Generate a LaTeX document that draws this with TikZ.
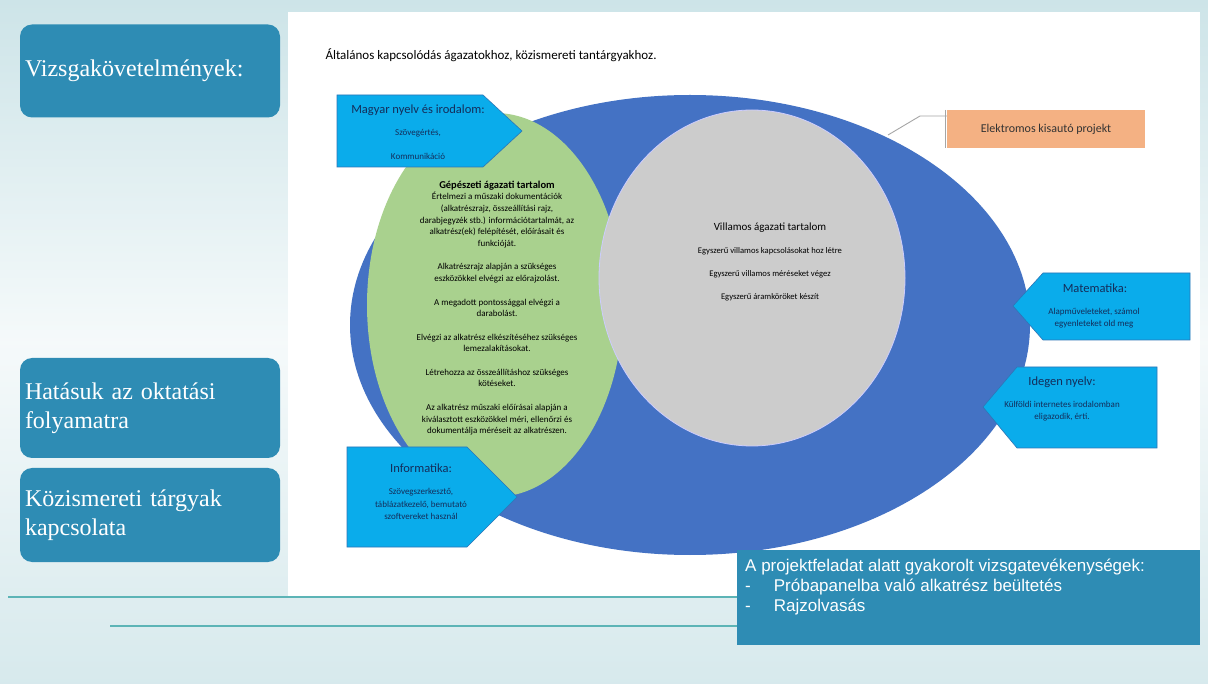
\documentclass[tikz,border=0pt]{standalone}
\usepackage{fontspec}
\setmainfont{Carlito}
\newfontfamily\sideserif{Liberation Serif}
\newfontfamily\arialfont{Liberation Sans}
\usetikzlibrary{positioning, calc}

\definecolor{bgteal}{RGB}{205,228,232}
\definecolor{sidebox}{RGB}{46,140,180}
\definecolor{bigblue}{RGB}{68,114,196}
\definecolor{greenfill}{RGB}{169,209,142}
\definecolor{grayfill}{RGB}{204,204,204}
\definecolor{callblue}{RGB}{10,172,235}
\definecolor{callborder}{RGB}{46,117,182}
\definecolor{calltext}{RGB}{20,45,90}
\definecolor{orangefill}{RGB}{244,177,131}
\definecolor{lineteal}{RGB}{92,180,182}

\begin{document}
\begin{tikzpicture}[
  x=1pt, y=-1pt,
  side/.style={fill=sidebox, rounded corners=12pt, minimum width=260pt,
               text width=250pt, align=left, text=white, inner sep=0pt,
               font=\sideserif\fontsize{24}{29}\selectfont},
  callout/.style={fill=callblue, draw=callborder, line width=0.6pt},
  calltitle/.style={text=calltext, font=\fontsize{12.5}{14}\selectfont},
  callbody/.style={text=calltext, align=center,
                   font=\fontsize{9}{12.5}\selectfont},
  pinline/.style={draw=gray!70, line width=0.9pt}
]
\useasboundingbox (0,0) rectangle (1208,684);

%% Background and slide panel
\shade[top color=bgteal, bottom color=bgteal!80, middle color=white!80!bgteal]
  (0,0) rectangle (1208,684);
\fill[white] (288,12) rectangle (1200,597);
\draw[lineteal, line width=2pt] (8,597) -- (745,597);
\draw[lineteal, line width=2pt] (110,626) -- (745,626);

%% Left column
\node[side, minimum height=93pt] (vizsga) at (150,71) {Vizsgakövetelmények:};
\node[side, minimum height=100pt] (hatas) at (150,408)
  {Hatásuk az oktatási\\folyamatra};
\node[side, minimum height=94pt] (kozism) at (150,515)
  {Közismereti tárgyak\\kapcsolata};

%% Header
\node[anchor=west, font=\fontsize{13}{15}\selectfont] (fejlec) at (322,55)
  {Általános kapcsolódás ágazatokhoz, közismereti tantárgyakhoz.};

%% Ellipses
\fill[bigblue] (690,325) ellipse [x radius=340, y radius=230];
\fill[greenfill] (495,305) ellipse [x radius=128, y radius=192];
\filldraw[fill=grayfill, draw=blue!20!white, line width=0.8pt]
  (752,278) ellipse [x radius=153, y radius=168];

%% Gépészeti content
\node[align=center, font=\fontsize{9}{11.7}\selectfont] (gepesz) at (497,308)
  {{\fontsize{10.5}{11.7}\selectfont\bfseries Gépészeti ágazati tartalom}\\
   Értelmezi a műszaki dokumentációk\\
   (alkatrészrajz, összeállítási rajz,\\
   darabjegyzék stb.) információtartalmát, az\\
   alkatrész(ek) felépítését, előírásait és\\
   funkcióját.\\[11.7pt]
   Alkatrészrajz alapján a szükséges\\
   eszközökkel elvégzi az előrajzolást.\\[11.7pt]
   A megadott pontossággal elvégzi a\\
   darabolást.\\[11.7pt]
   Elvégzi az alkatrész elkészítéséhez szükséges\\
   lemezalakításokat.\\[11.7pt]
   Létrehozza az összeállításhoz szükséges\\
   kötéseket.\\[11.7pt]
   Az alkatrész műszaki előírásai alapján a\\
   kiválasztott eszközökkel méri, ellenőrzi és\\
   dokumentálja méréseit az alkatrészen.};

%% Villamos content
\node[align=center, font=\fontsize{8.6}{23}\selectfont] (villamos) at (770,262)
  {{\fontsize{11}{12}\selectfont Villamos ágazati tartalom}\\
   Egyszerű villamos kapcsolásokat hoz létre\\
   Egyszerű villamos méréseket végez\\
   Egyszerű áramköröket készít};

%% Callouts
\filldraw[callout] (337,95) -- (483,95) -- (522,131) -- (483,167) -- (337,167) -- cycle;
\node[calltitle] (magyar) at (418,110) {Magyar nyelv és irodalom:};
\node[callbody] (szoveg) at (418,133) {Szövegértés,};
\node[callbody] (kommun) at (418,156) {Kommunikáció};

\filldraw[callout] (1013,306) -- (1043,273) -- (1190,273) -- (1190,340) -- (1043,340) -- cycle;
\node[calltitle] (matek) at (1095,288) {Matematika:};
\node[callbody] (mateksz) at (1094,318) {Alapműveleteket, számol\\egyenleteket old meg};

\filldraw[callout] (983,407) -- (1017,367) -- (1157,367) -- (1157,448) -- (1017,448) -- cycle;
\node[calltitle] (idegen) at (1062,382) {Idegen nyelv:};
\node[callbody] (idegensz) at (1062,411) {Külföldi internetes irodalomban\\eligazodik, érti.};

\filldraw[callout] (347,447) -- (467,447) -- (517,497) -- (467,547) -- (347,547) -- cycle;
\node[calltitle] (info) at (421,468) {Informatika:};
\node[callbody] (infosz) at (421,504) {Szövegszerkesztő,\\táblázatkezelő, bemutató\\szoftvereket használ};

%% Project label
\node[fill=orangefill, minimum width=198pt, minimum height=38pt,
      font=\fontsize{12}{14}\selectfont, text=black!80] (projekt) at (1046,129)
  {Elektromos kisautó projekt};
\coordinate (pin) at (888,135);
\coordinate (elbow) at (920,116);
\draw[pinline] (pin) -- (elbow) -- (elbow -| projekt.west);
\draw[pinline] ([xshift=-1pt]projekt.north west) -- ([xshift=-1pt]projekt.south west);

%% Exam activities
\node[fill=sidebox, anchor=north west, minimum width=463pt, minimum height=95pt]
  (gyakorlat) at (737,550) {};
\node[anchor=north west, align=left, text=white, inner sep=0pt,
      font=\arialfont\fontsize{17}{20}\selectfont] (gyaksz) at (745,559)
  {A projektfeladat alatt gyakorolt vizsgatevékenységek:\\
   -\hspace{23pt}Próbapanelba való alkatrész beültetés\\
   -\hspace{23pt}Rajzolvasás};

\end{tikzpicture}
\end{document}
